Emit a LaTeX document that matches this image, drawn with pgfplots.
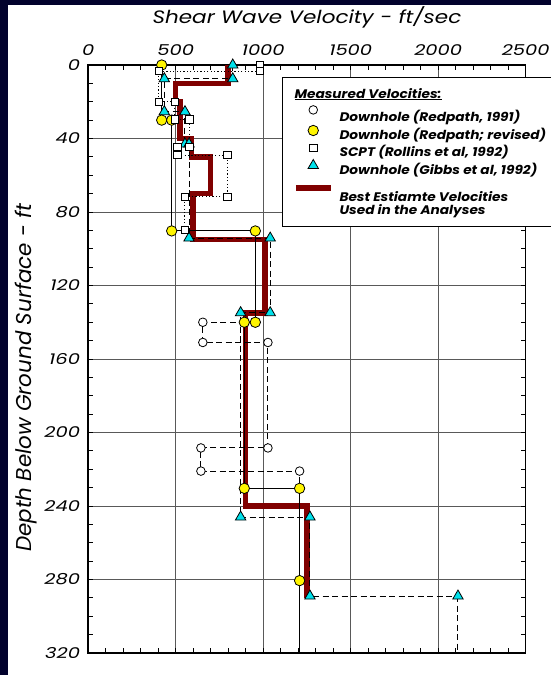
\documentclass[border=0pt]{standalone}
\usepackage{pgfplots}
\pgfplotsset{compat=1.18}
\usepackage{fontspec}
\setmainfont{Poppins}
\newfontfamily\tickfont{Poppins}[FakeStretch=1.3]
\newfontfamily\titlefont{Poppins}[FakeStretch=1.2]
\newfontfamily\legfont{Poppins}[FakeStretch=1.1]
\definecolor{navy}{RGB}{2,2,45}
\definecolor{bestred}{RGB}{128,0,0}
\definecolor{tri}{RGB}{0,225,235}
\definecolor{ylw}{RGB}{255,245,0}
\newcommand{\lrow}[2]{\raisebox{0pt}[#1bp][0pt]{#2}}
\begin{document}
\begin{tikzpicture}
\fill[navy] (0,0) rectangle (551bp,675bp);
\fill[white] (8bp,0) rectangle (551bp,670bp);
\begin{axis}[
  at={(88.2bp,22bp)}, anchor=south west,
  width=437.5bp, height=588bp, scale only axis,
  xmin=0, xmax=2500, ymin=0, ymax=320, y dir=reverse,
  xtick={0,500,...,2500}, xticklabels={0,500,1000,1500,2000,2500},
  ytick={0,40,...,320}, yticklabels={0,40,80,120,160,200,240,280,320},
  minor x tick num=4, minor y tick num=3,
  xticklabel pos=upper,
  tick align=inside,
  major tick length=5bp, minor tick length=5bp,
  every tick/.style={black, line width=0.8bp},
  grid=major, major grid style={black!65, line width=0.8bp},
  axis line style={black, line width=1.5bp},
  ticklabel style={font=\tickfont\itshape\fontsize{15}{15}\selectfont, inner sep=0pt},
  xticklabel style={anchor=base, yshift=9.5bp},
  yticklabel style={anchor=east, xshift=-8bp},
  title={Shear Wave Velocity - ft/sec},
  title style={at={(0.5,1)}, anchor=base, yshift=36bp, inner sep=0pt, font=\titlefont\itshape\fontsize{18}{18}\selectfont},
  ylabel={Depth Below Ground Surface - ft},
  ylabel style={at={(axis description cs:-0.129,0.468)}, anchor=base, inner sep=0pt, font=\itshape\fontsize{21.5}{21.5}\selectfont},
  clip=false,
  legend image code/.code={\path (0bp,0bp) (35bp,0bp); \draw[#1] plot coordinates {(17.5bp,0bp)};},
  legend cell align=left,
  legend style={at={(0.443,0.979)}, anchor=north west, draw=black, line width=1bp, fill=white,
    inner xsep=10.5bp, inner ysep=11.5bp, row sep=0pt, column sep=6bp,
    font=\legfont\bfseries\itshape\fontsize{12.5}{12.5}\selectfont, nodes={inner sep=0pt, text depth=0pt}},
]
% best estimate
\addplot[bestred, line width=5.5bp, line join=miter, forget plot] coordinates {
(800,0)(800,10)(500,10)(500,20)(525,20)(525,40)(590,40)(590,50)(700,50)(700,70)(600,70)(600,95)(1010,95)(1010,135)(900,135)(900,240)(1250,240)(1250,290)};
% Gibbs et al 1992
\addplot[black, line width=1bp, dash pattern=on 6bp off 3.5bp, forget plot] coordinates {(2113,289)(2113,320)};
\addplot[black, line width=1bp, dash pattern=on 6bp off 3.5bp, mark=triangle*, mark size=6bp, mark options={solid, fill=tri, draw=black, line width=0.8bp}, forget plot] coordinates {
(826,0)(826,7.5)(435,7.5)(435,25.4)(553,25.4)(553,43)(576,43)(576,94.2)(1040,94.2)(1040,134.8)(871,134.8)(871,246)(1267,246)(1267,289)(2113,289)};
% Redpath 1991
\addplot[black, line width=1bp, dash pattern=on 6bp off 3.5bp, forget plot] coordinates {(1208,280.6)(1208,320)};
\addplot[black, line width=1bp, dash pattern=on 6bp off 3.5bp, mark=*, mark size=4.3bp, mark options={solid, fill=white, draw=black, line width=0.8bp}, forget plot] coordinates {
(420,0)(420,30)(477,30)(477,90.3)(955,90.3)(955,140)(655,140)(655,151)(1027,151)(1027,208.4)(644,208.4)(644,221)(1208,221)(1208,280.6)};
% Redpath revised
\addplot[black, line width=1bp, forget plot] coordinates {(1208,280.6)(1208,320)};
\addplot[black, line width=1bp, mark=*, mark size=5.2bp, mark options={solid, fill=ylw, draw=black, line width=0.8bp}, forget plot] coordinates {
(420,0)(420,30)(477,30)(477,90.3)(955,90.3)(955,140)(892,140)(892,230.4)(1208,230.4)(1208,280.6)};
% SCPT Rollins
\addplot[black, line width=1bp, dash pattern=on 1.2bp off 2.2bp, mark=square*, mark size=3.7bp, mark options={solid, fill=white, draw=black, line width=0.8bp}, forget plot] coordinates {
(982,0)(982,3.3)(403,3.3)(403,20)(494,20)(494,29.6)(578,29.6)(578,44.6)(509,44.6)(509,49)(796,49)(796,71.7)(551,71.7)(551,89.6)};
% legend
\addlegendimage{empty legend}
\addlegendentry{\lrow{8.7}{\hspace*{-45bp}\underline{Measured Velocities:}}}
\addlegendimage{mark=*, mark size=4.3bp, mark options={solid, fill=white, draw=black, line width=0.8bp}}
\addlegendentry{\lrow{23.7}{Downhole (Redpath, 1991)}}
\addlegendimage{mark=*, mark size=5.2bp, mark options={solid, fill=ylw, draw=black, line width=0.8bp}}
\addlegendentry{\lrow{17.5}{Downhole (Redpath; revised)}}
\addlegendimage{mark=square*, mark size=3.7bp, mark options={solid, fill=white, draw=black, line width=0.8bp}}
\addlegendentry{\lrow{17.5}{SCPT (Rollins et al, 1992)}}
\addlegendimage{mark=triangle*, mark size=6bp, mark options={solid, fill=tri, draw=black, line width=0.8bp}}
\addlegendentry{\lrow{17.5}{Downhole (Gibbs et al, 1992)}}
\addlegendimage{legend image code/.code={\draw[bestred, line width=5.5bp] (0bp,0bp) -- (35bp,0bp);}}
\addlegendentry{\lrow{27.4}{Best Estiamte Velocities}}
\addlegendimage{empty legend}
\addlegendentry{\lrow{13.3}{Used in the Analyses}}
\end{axis}
\pgfresetboundingbox
\path (0,0) rectangle (551bp,675bp);
\end{tikzpicture}
\end{document}
